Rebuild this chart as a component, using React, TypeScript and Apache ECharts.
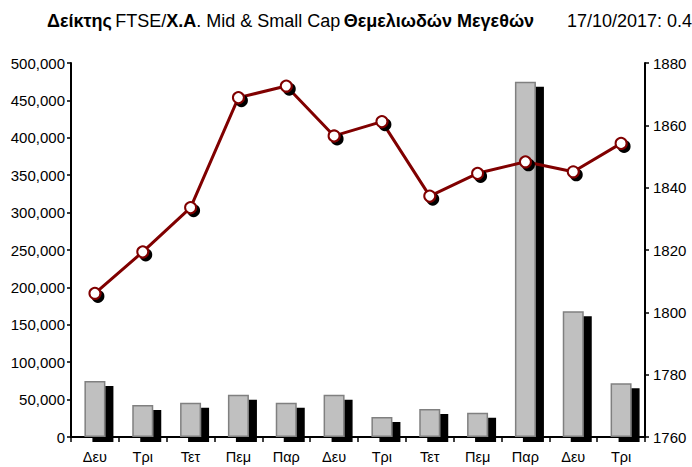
import React, { useEffect, useRef } from "react";
import * as echarts from "echarts";

const categories = ["Δευ", "Τρι", "Τετ", "Πεμ", "Παρ", "Δευ", "Τρι", "Τετ", "Πεμ", "Παρ", "Δευ", "Τρι"];
const volumes = [75000, 42800, 45900, 56600, 45900, 56600, 26700, 37400, 32500, 475000, 168000, 72000];
const indexValues = [1806.1, 1819.4, 1833.6, 1868.9, 1872.6, 1856.6, 1861.2, 1837.3, 1844.6, 1848.3, 1845.1, 1854.2];
const leftTicks = { min: 0, max: 500000, interval: 50000 };
const rightTicks = { min: 1760, max: 1880, interval: 20 };

const FONT = "'Liberation Sans', Arial, sans-serif";

function fmt(v: number) {
  return v.toString().replace(/\B(?=(\d{3})+(?!\d))/g, ",");
}

export default function App() {
  const ref = useRef<HTMLDivElement>(null);
  useEffect(() => {
    if (!ref.current) return;
    const chart = echarts.init(ref.current, null, { renderer: "svg" });
    chart.setOption({
      animation: false,
      backgroundColor: "#fff",
      textStyle: { fontFamily: FONT },
      graphic: [
        {
          type: "text",
          left: 47,
          top: 12,
          style: {
            text: "{b|Δείκτης} {n|FTSE/}{b|Χ.Α}{n|. Mid & Small Cap} {b|Θεμελιωδών Μεγεθών}",
            rich: {
              b: { fontFamily: FONT, fontSize: 18, fontWeight: "bold", fill: "#000" },
              n: { fontFamily: FONT, fontSize: 18, fill: "#000" },
            },
          },
        },
        {
          type: "text",
          x: 567,
          y: 12,
          style: { text: "17/10/2017: 0.49%", fontFamily: FONT, fontSize: 18, fill: "#000" },
        },
      ],
      grid: { left: 71, right: 47, top: 63, bottom: 30, containLabel: false },
      xAxis: {
        type: "category",
        data: categories,
        boundaryGap: true,
        axisLine: { lineStyle: { color: "#000", width: 2 } },
        axisTick: { show: true, length: 5, lineStyle: { color: "#000", width: 1.5 } },
        axisLabel: { color: "#000", fontSize: 14.5, margin: 12, fontFamily: FONT },
      },
      yAxis: [
        {
          type: "value",
          ...leftTicks,
          position: "left",
          splitLine: { show: false },
          axisLine: { show: true, lineStyle: { color: "#000", width: 2 } },
          axisTick: { show: true, length: 4, lineStyle: { color: "#000", width: 1.5 } },
          axisLabel: { color: "#000", fontSize: 15, margin: 6, fontFamily: FONT, formatter: (v: number) => fmt(v) },
        },
        {
          type: "value",
          ...rightTicks,
          position: "right",
          splitLine: { show: false },
          axisLine: { show: true, lineStyle: { color: "#000", width: 2 } },
          axisTick: { show: true, length: 4, lineStyle: { color: "#000", width: 1.5 } },
          axisLabel: { color: "#000", fontSize: 15, margin: 8, fontFamily: FONT, formatter: (v: number) => String(v) },
        },
      ],
      series: [
        {
          type: "bar",
          yAxisIndex: 0,
          data: volumes,
          barWidth: 21,
          itemStyle: {
            color: "#C0C0C0",
            borderColor: "#808080",
            borderWidth: 1.5,
            shadowColor: "#000",
            shadowBlur: 0,
            shadowOffsetX: 8,
            shadowOffsetY: 5,
          },
          z: 2,
        },
        {
          type: "line",
          yAxisIndex: 1,
          data: indexValues,
          symbol: "circle",
          symbolSize: 11,
          showAllSymbol: true,
          lineStyle: { color: "#800000", width: 3 },
          itemStyle: {
            color: "#fff",
            borderColor: "#800000",
            borderWidth: 2,
            shadowColor: "#000",
            shadowBlur: 0,
            shadowOffsetX: 3,
            shadowOffsetY: 3,
          },
          z: 3,
        },
      ],
    });
    return () => chart.dispose();
  }, []);
  return <div ref={ref} style={{ width: 692, height: 467, position: "absolute", left: 0, top: 0 }} />;
}
